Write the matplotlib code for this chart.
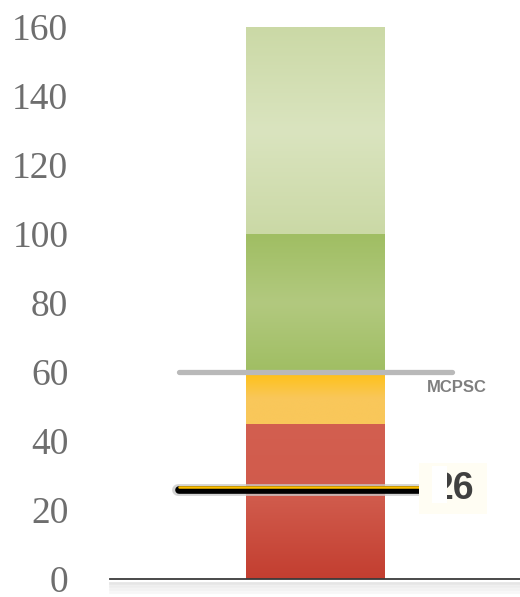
import numpy as np
import matplotlib.pyplot as plt
from matplotlib.colors import LinearSegmentedColormap
from matplotlib.patches import Rectangle

# band limits of the gauge and their gradient colours (top -> middle -> bottom)
band_edges = [0, 45, 60, 100, 160]
band_colors = [
    ["#d35f50", "#d05a4b", "#c33e30"],
    ["#ffc114", "#f9c75a", "#f9c75a"],
    ["#a0be63", "#b2c97f", "#a0be63"],
    ["#cbd9a6", "#dae4bf", "#cbd9a6"],
]
value = 26
target = 60
target_label = "MCPSC"
yticks = [0, 20, 40, 60, 80, 100, 120, 140, 160]

fig = plt.figure(figsize=(5.2, 5.97), dpi=100)
ax = fig.add_axes([110 / 520, 18 / 597, 410 / 520, 552 / 597])
ax.set_xlim(-1, 1)
ax.set_ylim(band_edges[0], band_edges[-1])

bar_w = 0.674
x0, x1 = -bar_w / 2, bar_w / 2
for lo, hi, cols in zip(band_edges[:-1], band_edges[1:], band_colors):
    cmap = LinearSegmentedColormap.from_list("band", cols[::-1])
    grad = np.linspace(0, 1, 200).reshape(-1, 1)
    ax.imshow(grad, cmap=cmap, origin="lower", aspect="auto",
              extent=[x0, x1, lo, hi], zorder=1, interpolation="bilinear")

# target line
ax.plot([-0.665, 0.67], [target, target], color="#b9b9b9", lw=3.8,
        solid_capstyle="round", zorder=3)
ax.text(0.69, target - 4.6, target_label, fontsize=12, fontweight="bold",
        color="#7f7f7f", ha="center", va="center", family="Liberation Sans")

# value marker: shadow, black body, yellow top edge
ax.plot([-0.67, 0.6], [value - 0.3, value - 0.3], color="#c8c8c8", lw=8.5,
        solid_capstyle="round", zorder=4, alpha=0.8)
ax.plot([-0.665, 0.6], [value - 0.3, value - 0.3], color="black", lw=5.5,
        solid_capstyle="round", zorder=5)
ax.plot([-0.662, 0.6], [value + 0.75, value + 0.75], color="#ffc000", lw=1.8,
        solid_capstyle="round", zorder=6)

# value label box
ax.add_patch(Rectangle((0.507, 18.8), 0.332, 14.8, facecolor="#fffdf3",
                       edgecolor="none", zorder=7))
ax.text(0.678, value + 0.2, str(value), fontsize=27, fontweight="bold",
        color="#404040", ha="center", va="center", family="Liberation Sans",
        zorder=8)
ax.add_patch(Rectangle((0.571, 22.0), 0.073, 10.75, facecolor="white",
                       edgecolor="none", zorder=9))

# axes styling
ax.set_xticks([])
ax.set_yticks(yticks)
ax.set_yticklabels([str(t) for t in yticks], family="Liberation Serif",
                   fontsize=27, color="#6e6e6e")
ax.tick_params(axis="y", length=0, pad=30)
for s in ["top", "right", "left"]:
    ax.spines[s].set_visible(False)
ax.spines["bottom"].set_color("#3a3a3a")
ax.spines["bottom"].set_linewidth(1.3)
ax.spines["bottom"].set_zorder(10)

# faint shadow under the baseline
for i, a in enumerate([0.10, 0.07, 0.05, 0.03]):
    ax.plot([-1, 1], [-1.2 - i * 0.9, -1.2 - i * 0.9], color="black", lw=2,
            alpha=a, clip_on=False, zorder=0)

fig.savefig("out.png", dpi=100)
